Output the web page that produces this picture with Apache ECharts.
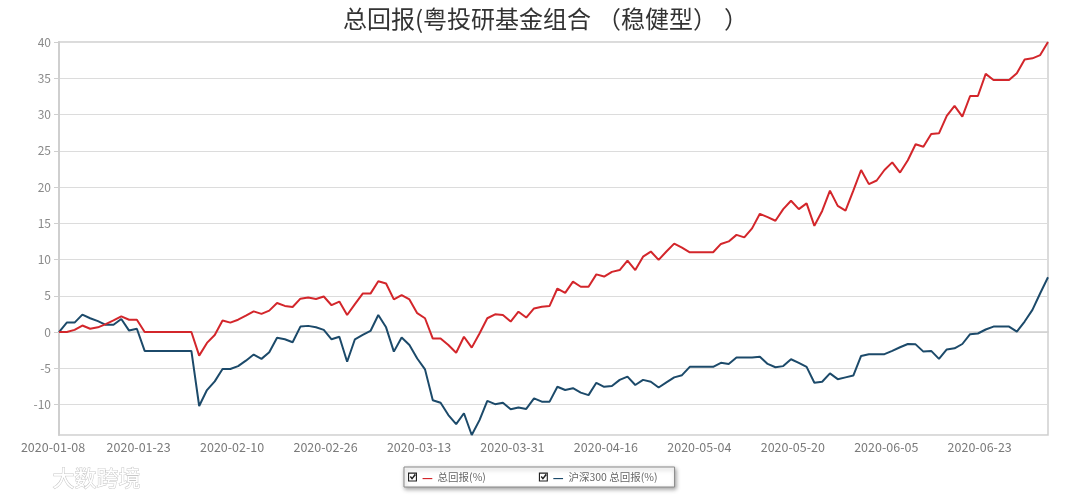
<!DOCTYPE html>
<html>
<head>
<meta charset="utf-8">
<script src="https://cdn.jsdelivr.net/npm/echarts@6/dist/echarts.min.js"></script>
<style>
html,body{margin:0;padding:0;background:#fff;}
#main{width:1080px;height:498px;}
</style>
</head>
<body>
<div id="main"></div>
<script>
const titleParts = ['总回报(粤投研基金组合', '（', '稳健型', '）', '）'];
const seriesNames = ['总回报(%)', '沪深300 总回报(%)'];
const watermarkText = '大数跨境';

const dates = [
'2020-01-08','2020-01-09','2020-01-10','2020-01-13','2020-01-14','2020-01-15','2020-01-16','2020-01-17','2020-01-20','2020-01-21','2020-01-22','2020-01-23','2020-01-24','2020-01-27','2020-01-28','2020-01-29','2020-01-30','2020-01-31',
'2020-02-03','2020-02-04','2020-02-05','2020-02-06','2020-02-07','2020-02-10','2020-02-11','2020-02-12','2020-02-13','2020-02-14','2020-02-17','2020-02-18','2020-02-19','2020-02-20','2020-02-21','2020-02-24','2020-02-25','2020-02-26','2020-02-27','2020-02-28',
'2020-03-02','2020-03-03','2020-03-04','2020-03-05','2020-03-06','2020-03-09','2020-03-10','2020-03-11','2020-03-12','2020-03-13','2020-03-16','2020-03-17','2020-03-18','2020-03-19','2020-03-20','2020-03-23','2020-03-24','2020-03-25','2020-03-26','2020-03-27','2020-03-30','2020-03-31',
'2020-04-01','2020-04-02','2020-04-03','2020-04-06','2020-04-07','2020-04-08','2020-04-09','2020-04-10','2020-04-13','2020-04-14','2020-04-15','2020-04-16','2020-04-17','2020-04-20','2020-04-21','2020-04-22','2020-04-23','2020-04-24','2020-04-27','2020-04-28','2020-04-29','2020-04-30',
'2020-05-01','2020-05-04','2020-05-05','2020-05-06','2020-05-07','2020-05-08','2020-05-11','2020-05-12','2020-05-13','2020-05-14','2020-05-15','2020-05-18','2020-05-19','2020-05-20','2020-05-21','2020-05-22','2020-05-25','2020-05-26','2020-05-27','2020-05-28','2020-05-29',
'2020-06-01','2020-06-02','2020-06-03','2020-06-04','2020-06-05','2020-06-08','2020-06-09','2020-06-10','2020-06-11','2020-06-12','2020-06-15','2020-06-16','2020-06-17','2020-06-18','2020-06-19','2020-06-22','2020-06-23','2020-06-24','2020-06-25','2020-06-26','2020-06-29','2020-06-30',
'2020-07-01','2020-07-02','2020-07-03'
];

const fundReturn = [
0,0,0.3,0.9,0.45,0.65,1.1,1.6,2.15,1.7,1.7,0,0,0,0,0,0,0,
-3.25,-1.5,-0.4,1.6,1.3,1.7,2.25,2.85,2.5,2.95,4.0,3.6,3.45,4.6,4.75,4.55,4.9,3.7,4.2,2.35,
3.85,5.3,5.3,7.0,6.7,4.5,5.1,4.5,2.6,1.9,-0.9,-0.9,-1.8,-2.85,-0.65,-2.15,-0.2,1.9,2.45,2.35,1.45,2.8,
2.0,3.25,3.5,3.6,6.0,5.4,6.95,6.25,6.25,7.95,7.65,8.3,8.55,9.85,8.55,10.4,11.1,9.95,11.1,12.2,11.65,11.0,
11.0,11.0,11.0,12.15,12.5,13.4,13.05,14.3,16.3,15.85,15.35,16.95,18.1,16.95,17.75,14.65,16.7,19.5,17.4,16.75,19.5,
22.35,20.4,20.9,22.35,23.4,22.0,23.7,25.9,25.55,27.3,27.4,29.8,31.2,29.7,32.55,32.55,35.6,34.75,34.75,34.75,35.7,37.6,
37.75,38.2,40
];

const csi300Return = [
0,1.3,1.3,2.4,1.9,1.5,1.0,1.0,1.8,0.2,0.45,-2.6,-2.6,-2.6,-2.6,-2.6,-2.6,-2.6,
-10.2,-8.0,-6.8,-5.1,-5.1,-4.7,-3.95,-3.1,-3.7,-2.8,-0.8,-1.0,-1.4,0.75,0.85,0.65,0.3,-1.0,-0.65,-4.1,
-1.0,-0.4,0.15,2.35,0.65,-2.7,-0.75,-1.8,-3.65,-5.15,-9.4,-9.75,-11.45,-12.7,-11.2,-14.2,-12.15,-9.5,-9.95,-9.75,-10.65,-10.4,
-10.6,-9.15,-9.6,-9.6,-7.55,-8.0,-7.75,-8.35,-8.7,-7.0,-7.55,-7.45,-6.6,-6.15,-7.3,-6.6,-6.85,-7.65,-6.95,-6.25,-5.95,-4.8,
-4.8,-4.8,-4.8,-4.25,-4.4,-3.5,-3.5,-3.5,-3.4,-4.4,-4.85,-4.7,-3.75,-4.25,-4.8,-7.0,-6.85,-5.7,-6.5,-6.25,-6.0,
-3.3,-3.05,-3.05,-3.05,-2.6,-2.1,-1.65,-1.7,-2.7,-2.6,-3.7,-2.4,-2.25,-1.65,-0.3,-0.2,0.35,0.75,0.75,0.75,0.05,1.45,
3.05,5.35,7.55
];

const RED = '#d3262b';
const BLUE = '#1c4a6a';
const FONT = '"Noto Sans CJK SC","Noto Sans",sans-serif';

const titleRich = '{a|' + titleParts[0] + '}{p|' + titleParts[1] + '}{a|' + titleParts[2] + '}{q|' + titleParts[3] + '}{q|' + titleParts[4] + '}';

const chart = echarts.init(document.getElementById('main'), null, {renderer: 'canvas'});
chart.setOption({
  animation: false,
  backgroundColor: '#fff',
  title: {
    text: titleRich,
    left: 338,
    top: 2,
    textStyle: {
      fontSize: 24, fontWeight: 'normal', color: '#333', fontFamily: FONT,
      rich: {
        a: {fontSize: 24, color: '#333', fontFamily: FONT},
        p: {fontSize: 24, color: '#333', fontFamily: FONT, padding: [0, 0, 0, 6]},
        q: {fontSize: 24, color: '#333', fontFamily: FONT, padding: [0, 7, 0, 0]}
      }
    }
  },
  grid: {
    left: 59, right: 32, top: 42, bottom: 63,
    show: true, borderColor: '#cfcfcf', borderWidth: 1.5, backgroundColor: '#fff'
  },
  legend: {
    left: 404, top: 467,
    orient: 'horizontal',
    padding: [4, 17, 4, 4],
    itemGap: 53,
    itemWidth: 9, itemHeight: 9,
    itemTextGap: 3,
    icon: 'path://M0,0H20V20H0Z M2.5,2.5V17.5H17.5V2.5Z M4,10L6.5,7.5L9,11L15,3L17.5,5.5L9,16Z',
    itemStyle: {color: '#222'},
    backgroundColor: '#fff',
    borderColor: '#8a8a8a', borderWidth: 1,
    shadowBlur: 4, shadowColor: 'rgba(0,0,0,0.35)', shadowOffsetX: 1, shadowOffsetY: 2,
    selectedMode: false,
    data: seriesNames,
    formatter: function (name) {
      return (name === seriesNames[0] ? '{r|—}' : '{b|—}') + '  ' + name;
    },
    textStyle: {
      fontSize: 10.5, color: '#666', fontFamily: FONT,
      rich: {
        r: {color: RED, fontSize: 12, fontWeight: 'bold'},
        b: {color: BLUE, fontSize: 12, fontWeight: 'bold'}
      }
    }
  },
  xAxis: {
    type: 'category',
    data: dates,
    boundaryGap: false,
    axisLine: {show: true, lineStyle: {color: '#cfcfcf', width: 1.5}},
    axisTick: {show: false},
    splitLine: {show: false},
    axisLabel: {
      color: '#7a7a7a', fontSize: 12.5, fontFamily: FONT, margin: 6,
      padding: [0, 12, 0, 0],
      interval: function (i) { return i === 0 || (i + 1) % 12 === 0; }
    }
  },
  yAxis: {
    type: 'value',
    min: 'dataMin',
    max: 40,
    splitNumber: 11,
    axisLine: {show: true, lineStyle: {color: '#cfcfcf', width: 2}},
    axisTick: {show: true, length: 5, lineStyle: {color: '#cfcfcf'}},
    splitLine: {show: true, lineStyle: {color: '#dcdcdc', width: 1.2}},
    axisLabel: {color: '#8a8a8a', fontSize: 12, fontFamily: FONT, margin: 8, showMinLabel: false}
  },
  graphic: [{
    type: 'text', left: 52, top: 466,
    style: {text: watermarkText, fontSize: 22, fontFamily: FONT, fill: '#ffffff', stroke: '#c8c8c8', lineWidth: 1}
  }],
  series: [
    {name: seriesNames[0], type: 'line', data: fundReturn, showSymbol: false, symbol: 'none',
     lineStyle: {color: RED, width: 2}, itemStyle: {color: RED}, z: 3},
    {name: seriesNames[1], type: 'line', data: csi300Return, showSymbol: false, symbol: 'none',
     lineStyle: {color: BLUE, width: 2}, itemStyle: {color: BLUE}, z: 2}
  ]
});
</script>
</body>
</html>
